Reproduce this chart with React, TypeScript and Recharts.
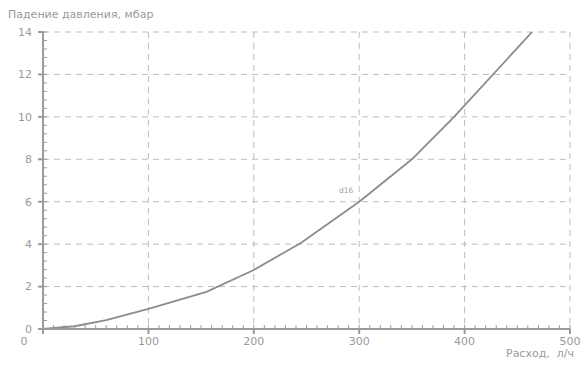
import { LineChart, Line, XAxis, YAxis, CartesianGrid, LabelList } from 'recharts';

const flow = [0, 30, 60, 100, 155, 200, 245, 300, 325, 350, 390, 464];
const drop = [0, 0.13, 0.42, 0.95, 1.75, 2.78, 4.07, 6, 7, 8, 10, 14];
const xTicks = [0, 100, 200, 300, 400, 500];
const yTicks = [0, 2, 4, 6, 8, 10, 12, 14];
const xMinor = Array.from({ length: 51 }, (_, i) => i * 10);
const yMinor = Array.from({ length: 36 }, (_, i) => +(i * 0.4).toFixed(1));
const CURVE_NAME = 'd16';
const LABEL_AT = 300;

const data = flow.map((f, i) => ({ flow: f, drop: drop[i] }));

const GRAY = '#9a9a9a';
const FONT = '"DejaVu Sans", sans-serif';

const XTick = (props: any) => {
  const { x, y, payload } = props;
  const shift = payload.value === 0 ? -19 : 0;
  return (
    <text x={x + shift} y={y} dy="0.71em" textAnchor="middle" fill={GRAY} fontSize={11} fontFamily={FONT}>
      {payload.value}
    </text>
  );
};

// minor axes: only the tick lines, no labels
const NoLabel = () => <g />;

const CurveLabel = (props: any) => {
  const { x, y, index } = props;
  if (flow[index] !== LABEL_AT) return null;
  return (
    <text x={x - 13} y={y - 9} textAnchor="middle" fill={GRAY} fontSize={7.5} fontFamily={FONT}>
      {CURVE_NAME}
    </text>
  );
};

export default function App() {
  return (
    <div style={{ position: 'absolute', left: 0, top: 0, width: 585, height: 365, background: '#fff' }}>
      <div style={{ position: 'absolute', left: 8, top: 8, fontFamily: FONT, fontSize: 11, color: GRAY, whiteSpace: 'nowrap' }}>
        Падение давления, мбар
      </div>
      <div style={{ position: 'absolute', right: 11, top: 347, fontFamily: FONT, fontSize: 11, lineHeight: '13px', color: GRAY, whiteSpace: 'pre' }}>
        Расход,  л/ч
      </div>
      <LineChart width={585} height={365} data={data} margin={{ top: 32, right: 15, bottom: 0, left: 0 }}>
        <CartesianGrid stroke="#bdbdbd" strokeDasharray="6 5" />
        <XAxis
          dataKey="flow"
          type="number"
          domain={[0, 500]}
          ticks={xTicks}
          height={36}
          stroke={GRAY}
          strokeWidth={2}
          tickSize={5}
          tickMargin={3}
          tick={<XTick />}
          allowDataOverflow
        />
        <XAxis
          xAxisId="minor"
          dataKey="flow"
          type="number"
          domain={[0, 500]}
          ticks={xMinor}
          mirror
          axisLine={false}
          tick={<NoLabel />}
          tickLine={{ stroke: GRAY, strokeWidth: 1 }}
          tickSize={4}
          interval={0}
          allowDataOverflow
        />
        <YAxis
          type="number"
          domain={[0, 14]}
          ticks={yTicks}
          width={43}
          stroke={GRAY}
          strokeWidth={2}
          tickSize={5}
          tickMargin={6}
          tick={{ fill: GRAY, fontSize: 11, fontFamily: FONT }}
          allowDataOverflow
        />
        <YAxis
          yAxisId="minor"
          type="number"
          domain={[0, 14]}
          ticks={yMinor}
          mirror
          axisLine={false}
          tick={<NoLabel />}
          tickLine={{ stroke: GRAY, strokeWidth: 1 }}
          tickSize={4}
          interval={0}
          allowDataOverflow
        />
        <Line
          dataKey="drop"
          type="linear"
          stroke="#8c8c8c"
          strokeWidth={1.8}
          dot={false}
          activeDot={false}
          isAnimationActive={false}
        >
          <LabelList dataKey="drop" content={<CurveLabel />} />
        </Line>
      </LineChart>
    </div>
  );
}
